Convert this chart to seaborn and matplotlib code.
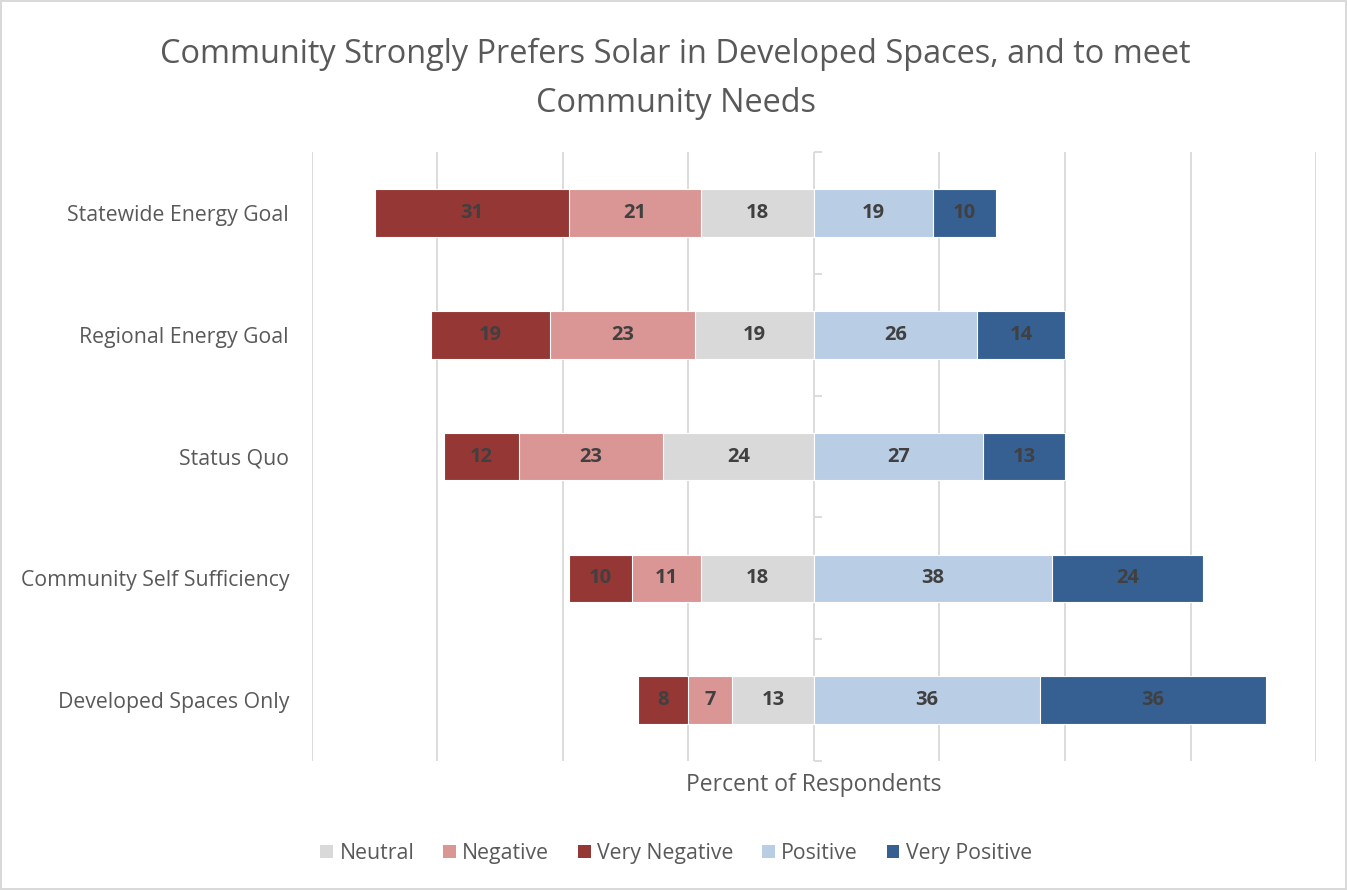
import matplotlib
matplotlib.use("Agg")
import matplotlib.pyplot as plt
import seaborn as sns
import numpy as np
import pandas as pd
from matplotlib.patches import Patch

categories = ["Statewide Energy Goal", "Regional Energy Goal", "Status Quo",
              "Community Self Sufficiency", "Developed Spaces Only"]
very_negative = [31, 19, 12, 10, 8]
negative = [21, 23, 23, 11, 7]
neutral = [18, 19, 24, 18, 13]
positive = [19, 26, 27, 38, 36]
very_positive = [10, 14, 13, 24, 36]

title = "Community Strongly Prefers Solar in Developed Spaces, and to meet\nCommunity Needs"
xlabel = "Percent of Respondents"

colors = {"Neutral": "#D9D9D9", "Negative": "#D99694", "Very Negative": "#953735",
          "Positive": "#B9CDE5", "Very Positive": "#376092"}

sns.set_theme(style="white")
plt.rcParams['font.family'] = ['Open Sans', 'DejaVu Sans']

vn = np.array(very_negative); ng = np.array(negative); nu = np.array(neutral)
ps = np.array(positive); vp = np.array(very_positive)

df = pd.DataFrame({
    "cat": categories,
    "neg_all": -(vn + ng + nu),
    "neg_mid": -(ng + nu),
    "neu": -nu,
    "pos_all": ps + vp,
    "pos": ps,
})

fig = plt.figure(figsize=(13.47, 8.9), dpi=100)
ax = fig.add_axes([0.2316, 0.1449, 0.977 - 0.2316, 0.829 - 0.1449])

layers = [("neg_all", "Very Negative"), ("neg_mid", "Negative"), ("neu", "Neutral"),
          ("pos_all", "Very Positive"), ("pos", "Positive")]
for col, name in layers:
    sns.barplot(data=df, x=col, y="cat", orient="h", color=colors[name],
                width=0.39, edgecolor="white", linewidth=0.8, ax=ax,
                saturation=1, zorder=3)

# labels
segs = [(-(vn + ng + nu), vn), (-(ng + nu), ng), (-nu, nu), (np.zeros_like(ps), ps), (ps, vp)]
for start, vals in segs:
    for i, v in enumerate(vals):
        ax.text(start[i] + v / 2, i, f"{v}", ha="center", va="center",
                fontsize=14.5, fontweight="bold", color="#404040", zorder=5)

ax.set_xlim(-80, 80)
ax.set_ylim(4.5, -0.5)
ax.set_xticks(np.arange(-80, 81, 20))
ax.set_xticklabels([])
ax.tick_params(axis="x", length=0)
ax.grid(axis="x", color="#D9D9D9", linewidth=1.3, zorder=0)
ax.grid(axis="y", visible=False)
for s in ax.spines.values():
    s.set_visible(False)
ax.set_ylabel("")
ax.set_xlabel(xlabel, fontsize=16.5, color="#595959", labelpad=5)
ax.tick_params(axis="y", length=0, pad=16.5, labelsize=15.3, labelcolor="#595959")

sec = ax.secondary_yaxis(0.5)
sec.set_yticks(np.arange(-0.5, 4.6, 1.0))
sec.set_yticklabels([])
sec.tick_params(axis="y", direction="out", length=6, color="#D9D9D9", width=1.3)
sec.spines["left"].set_color("#D9D9D9")
sec.spines["left"].set_linewidth(1.3)
for s in ["right", "top", "bottom"]:
    sec.spines[s].set_visible(False)

fig.text(0.5015, 0.958, title, ha="center", va="top", fontsize=23.4,
         color="#595959", linespacing=1.67)

order = ["Neutral", "Negative", "Very Negative", "Positive", "Very Positive"]
handles = [Patch(facecolor=colors[n], edgecolor="none") for n in order]
fig.legend(handles, order, loc="center", bbox_to_anchor=(0.502, 0.041), ncol=5,
           frameon=False, fontsize=15.3, labelcolor="#595959",
           handlelength=0.6, handleheight=0.6, handletextpad=0.3, columnspacing=1.35)

fig.patch.set_edgecolor("#D9D9D9")
fig.patch.set_linewidth(1.5)
fig.savefig("out.png", dpi=100, facecolor="white", edgecolor=fig.get_edgecolor())
